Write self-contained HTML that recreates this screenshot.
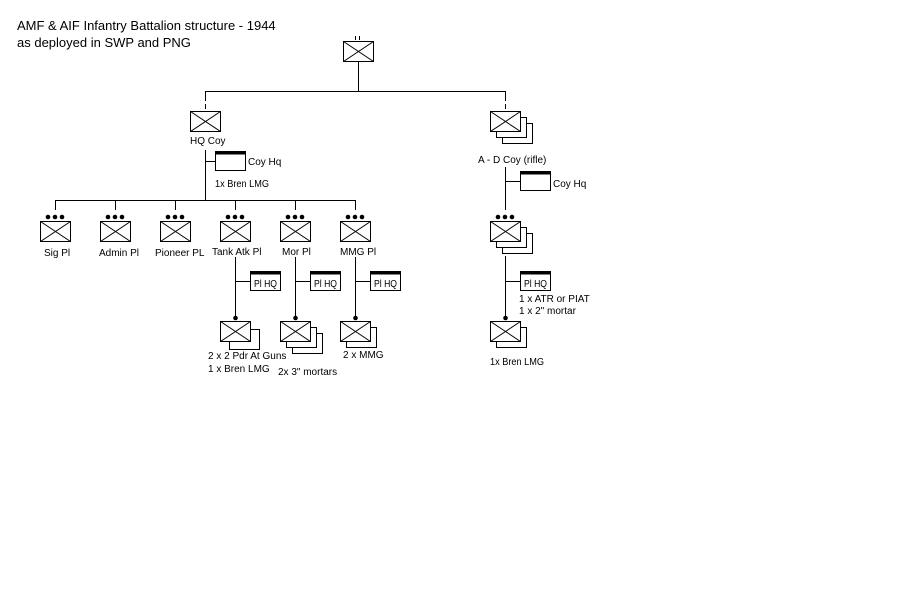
<!DOCTYPE html>
<html><head><style>
html,body{margin:0;padding:0;background:#fff;}
svg{display:block;}
text{font-family:"Liberation Sans",Arial,sans-serif;fill:#000;}
</style></head><body>
<svg width="900" height="600" viewBox="0 0 900 600" xmlns="http://www.w3.org/2000/svg">
<defs>
<g id="bx"><rect x="0.5" y="0.5" width="30" height="20" fill="#fff" stroke="#000"/><path d="M0.5 0.5L30.5 20.5M30.5 0.5L0.5 20.5" stroke="#000" fill="none"/></g>
<g id="hq"><rect x="0.5" y="0.5" width="30" height="19" fill="#fff" stroke="#000"/><rect x="0" y="0" width="31" height="3.5" fill="#000"/></g>
<g id="dots3"><circle cx="-7" cy="0" r="2.3"/><circle cx="0" cy="0" r="2.3"/><circle cx="7" cy="0" r="2.3"/></g>
<g id="back"><rect x="0.5" y="0.5" width="30" height="20" fill="#fff" stroke="#000"/></g>
</defs>
<text x="17" y="30" font-size="13">AMF &amp; AIF Infantry Battalion structure - 1944</text>
<text x="17" y="47" font-size="13">as deployed in SWP and PNG</text>

<g stroke="#000" fill="none">
<path d="M355.5 36v4M359.5 36v4"/>
<path d="M358.5 61v30M205 91.5h301"/>
<path d="M205.5 91v10M205.5 104v5M505.5 91v10M505.5 104v5"/>
<path d="M205.5 150v50M205 161.5h10"/>
<path d="M55 200.5h301"/>
<path d="M55.5 200v10M115.5 200v10M175.5 200v10M235.5 200v10M295.5 200v10M355.5 200v10"/>
<path d="M235.5 257v61M235 281.5h15"/>
<path d="M295.5 257v61M295 281.5h15"/>
<path d="M355.5 257v61M355 281.5h15"/>
<path d="M505.5 167v43M505 181.5h15"/>
<path d="M505.5 256v62M505 281.5h15"/>
</g>

<use href="#bx" x="343" y="41"/>
<use href="#bx" x="190" y="111"/>
<text x="190" y="144" font-size="10">HQ Coy</text>
<use href="#hq" x="215" y="151"/>
<text x="248" y="165" font-size="10">Coy Hq</text>
<text x="215" y="187" font-size="10" textLength="54" lengthAdjust="spacingAndGlyphs">1x Bren LMG</text>

<g>
<use href="#dots3" x="55" y="217"/><use href="#bx" x="40" y="221"/>
<use href="#dots3" x="115" y="217"/><use href="#bx" x="100" y="221"/>
<use href="#dots3" x="175" y="217"/><use href="#bx" x="160" y="221"/>
<use href="#dots3" x="235" y="217"/><use href="#bx" x="220" y="221"/>
<use href="#dots3" x="295" y="217"/><use href="#bx" x="280" y="221"/>
<use href="#dots3" x="355" y="217"/><use href="#bx" x="340" y="221"/>
</g>
<g font-size="10">
<text x="44" y="256">Sig Pl</text>
<text x="99" y="256">Admin Pl</text>
<text x="155" y="256">Pioneer PL</text>
<text x="212" y="255">Tank Atk Pl</text>
<text x="282" y="255">Mor Pl</text>
<text x="340" y="255">MMG Pl</text>
</g>

<use href="#hq" x="250" y="271"/><text x="254" y="287" font-size="10" textLength="23" lengthAdjust="spacingAndGlyphs">Pl HQ</text>
<use href="#hq" x="310" y="271"/><text x="314" y="287" font-size="10" textLength="23" lengthAdjust="spacingAndGlyphs">Pl HQ</text>
<use href="#hq" x="370" y="271"/><text x="374" y="287" font-size="10" textLength="23" lengthAdjust="spacingAndGlyphs">Pl HQ</text>

<circle cx="235.5" cy="318" r="2.3"/>
<use href="#back" x="229" y="329"/><use href="#bx" x="220" y="321"/>
<text x="208" y="359" font-size="10">2 x 2 Pdr At Guns</text>
<text x="208" y="372" font-size="10">1 x Bren LMG</text>

<circle cx="295.5" cy="318" r="2.3"/>
<use href="#back" x="292" y="333"/><use href="#back" x="286" y="327"/><use href="#bx" x="280" y="321"/>
<text x="278" y="375" font-size="10">2x 3" mortars</text>

<circle cx="355.5" cy="318" r="2.3"/>
<use href="#back" x="346" y="327"/><use href="#bx" x="340" y="321"/>
<text x="343" y="358" font-size="10">2 x MMG</text>

<use href="#back" x="502" y="123"/><use href="#back" x="496" y="117"/><use href="#bx" x="490" y="111"/>
<text x="478" y="163" font-size="10">A - D Coy (rifle)</text>
<use href="#hq" x="520" y="171"/><text x="553" y="187" font-size="10">Coy Hq</text>

<use href="#dots3" x="505" y="217"/>
<use href="#back" x="502" y="233"/><use href="#back" x="496" y="227"/><use href="#bx" x="490" y="221"/>
<use href="#hq" x="520" y="271"/><text x="524" y="287" font-size="10" textLength="23" lengthAdjust="spacingAndGlyphs">Pl HQ</text>
<text x="519" y="302" font-size="10">1 x ATR or PIAT</text>
<text x="519" y="314" font-size="10">1 x 2" mortar</text>

<circle cx="505.5" cy="318" r="2.3"/>
<use href="#back" x="496" y="327"/><use href="#bx" x="490" y="321"/>
<text x="490" y="365" font-size="10" textLength="54" lengthAdjust="spacingAndGlyphs">1x Bren LMG</text>
</svg>
</body></html>
